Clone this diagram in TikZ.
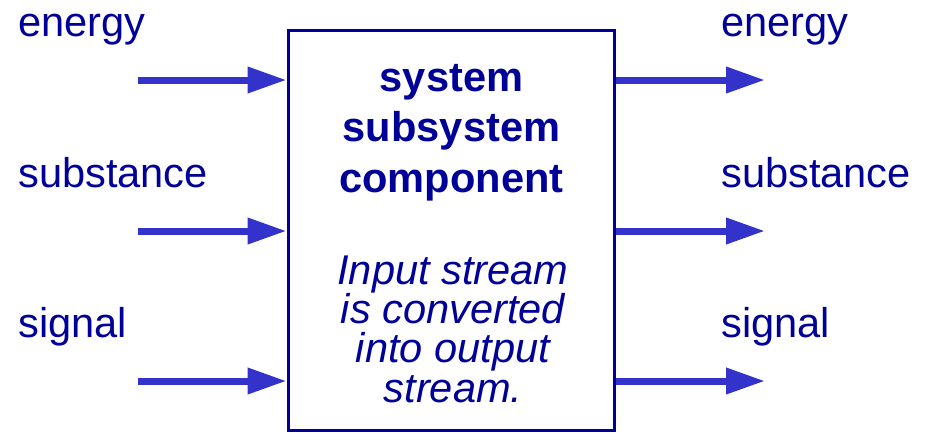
\documentclass[tikz,border=0pt]{standalone}
\usepackage{fontspec}
\setmainfont{Liberation Sans}
\usetikzlibrary{arrows.meta}
\definecolor{boxblue}{HTML}{000099}
\definecolor{flowblue}{HTML}{3333CC}
\begin{document}
\begin{tikzpicture}[x=1pt,y=-1pt,
  lbl/.style={anchor=base west,inner sep=0pt,text=boxblue,font=\fontsize{41.6}{41.6}\selectfont},
  head/.style={anchor=base,inner sep=0pt,text=boxblue,font=\fontsize{41.6}{41.6}\selectfont\bfseries},
  note/.style={anchor=base,inner sep=0pt,text=boxblue,font=\fontsize{41.6}{41.6}\selectfont\itshape},
  flow/.style={draw=flowblue,line width=7pt,-{Triangle[length=39pt,width=25pt]}}]
\useasboundingbox (0,0) rectangle (928,432);

% the block
\node[draw=boxblue,line width=3pt,minimum width=326pt,minimum height=400pt,inner sep=0pt]
  (box) at (451,230) {};

\node[head] (t1) at (451.5,91)  {system};
\node[head] (t2) at (451.5,141) {subsystem};
\node[head] (t3) at (451.5,192) {component};

\node[note] (n1) at (453,284) {Input stream};
\node[note] (n2) at (453,323) {is converted};
\node[note] (n3) at (453,362) {into output};
\node[note] (n4) at (453,402) {stream.};

% inputs
\node[lbl] (ie) at (18,36)  {energy};
\node[lbl] (is) at (18,187) {substance};
\node[lbl] (ig) at (18,337) {signal};
\coordinate (ae) at (138,80);
\coordinate (as) at (138,231);
\coordinate (ag) at (138,381);
\draw[flow] (ae) -- (ae -| box.west);
\draw[flow] (as) -- (as -| box.west);
\draw[flow] (ag) -- (ag -| box.west);

% outputs
\node[lbl] (oe) at (721,36)  {energy};
\node[lbl] (os) at (721,187) {substance};
\node[lbl] (og) at (721,337) {signal};
\coordinate (be) at (765,80);
\coordinate (bs) at (765,231);
\coordinate (bg) at (765,381);
\draw[flow] (be -| box.east) -- (be);
\draw[flow] (bs -| box.east) -- (bs);
\draw[flow] (bg -| box.east) -- (bg);
\end{tikzpicture}
\end{document}
